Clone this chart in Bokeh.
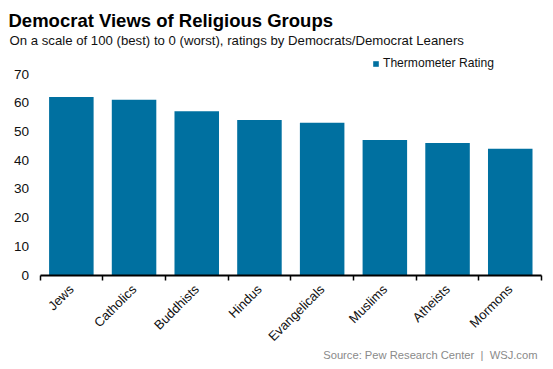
import math
from bokeh.plotting import figure
from bokeh.models import (Range1d, FixedTicker, Label, Legend, LegendItem,
                          ColumnDataSource)
from bokeh.embed import file_html
from bokeh.resources import INLINE

categories = ["Jews", "Catholics", "Buddhists", "Hindus", "Evangelicals",
              "Muslims", "Atheists", "Mormons"]
ratings = [62, 61, 57, 54, 53, 47, 46, 44]
y_ticks = [0, 10, 20, 30, 40, 50, 60, 70]

title_text = "Democrat Views of Religious Groups"
subtitle_text = "On a scale of 100 (best) to 0 (worst), ratings by Democrats/Democrat Leaners"
source_text = "Source: Pew Research Center\u00a0\u00a0|\u00a0\u00a0WSJ.com"
series_name = "Thermometer Rating"

BAR = "#0070A0"
FONT = "Liberation Sans"

W, H = 553, 369
n = len(categories)
centers = [i + 0.5 for i in range(n)]
bounds = [float(i) for i in range(n + 1)]

# plot frame geometry (pixels inside the figure)
left_px, cat_px = 39.5, 62.7
zero_px, unit_px = 274.5, 2.871

x_range = Range1d(-left_px / cat_px, (W - left_px) / cat_px)
y_range = Range1d(-(H - zero_px) / unit_px, zero_px / unit_px)

src = ColumnDataSource(dict(x=centers, top=ratings, cat=categories))

p = figure(width=W, height=H, output_backend="svg", toolbar_location=None,
           x_range=x_range, y_range=y_range,
           min_border=0, min_border_left=0, min_border_right=0,
           min_border_top=0, min_border_bottom=0)
p.title = None
p.outline_line_color = None
p.xgrid.visible = False
p.ygrid.visible = False

r = p.vbar(x="x", top="top", width=0.71, source=src, fill_color=BAR,
           line_color=None)

# x axis, drawn at y = 0
xa = p.xaxis[0]
xa.fixed_location = 0
xa.bounds = (0, n)
xa.ticker = FixedTicker(ticks=centers, minor_ticks=bounds)
xa.major_label_overrides = {c: cat for c, cat in zip(centers, categories)}
xa.major_tick_line_color = None
xa.major_tick_out = 0
xa.minor_tick_out = 5
xa.minor_tick_in = 0
xa.minor_tick_line_color = "#000000"
xa.minor_tick_line_width = 1.5
xa.axis_line_color = "#000000"
xa.axis_line_width = 2
xa.major_label_orientation = math.pi / 4
xa.major_label_text_font = FONT
xa.major_label_text_font_size = "13px"
xa.major_label_text_color = "#111111"
xa.major_label_standoff = 7

# y axis, drawn at x = 0
ya = p.yaxis[0]
ya.fixed_location = 0
ya.bounds = (0, 70)
ya.ticker = FixedTicker(ticks=y_ticks)
ya.axis_line_color = None
ya.major_tick_line_color = None
ya.major_tick_out = 0
ya.minor_tick_line_color = None
ya.major_label_text_font = FONT
ya.major_label_text_font_size = "13.6px"
ya.major_label_text_color = "#111111"
ya.major_label_standoff = 11

# texts (screen units, measured from the bottom-left corner)
p.add_layout(Label(x=8, y=H - 19.5, x_units="screen", y_units="screen",
                   text=title_text, text_font=FONT, text_font_size="18.5px",
                   text_font_style="bold", text_color="#000000",
                   text_baseline="middle", text_align="left"))
p.add_layout(Label(x=9, y=H - 40, x_units="screen", y_units="screen",
                   text=subtitle_text, text_font=FONT, text_font_size="13.2px",
                   text_color="#111111",
                   text_baseline="middle", text_align="left"))
p.add_layout(Label(x=537, y=H - 354, x_units="screen", y_units="screen",
                   text=source_text, text_font=FONT, text_font_size="11.2px",
                   text_color="#8a8a8a",
                   text_baseline="middle", text_align="right"))

legend = Legend(items=[LegendItem(label=series_name, renderers=[r])],
                location=(372, H - 70), padding=0, margin=0, spacing=0,
                glyph_width=7, glyph_height=7, label_standoff=4,
                label_text_font=FONT, label_text_font_size="12.1px",
                label_text_color="#111111",
                border_line_color=None, background_fill_alpha=0)
p.add_layout(legend)

open("out.html", "w").write(file_html(p, INLINE))
